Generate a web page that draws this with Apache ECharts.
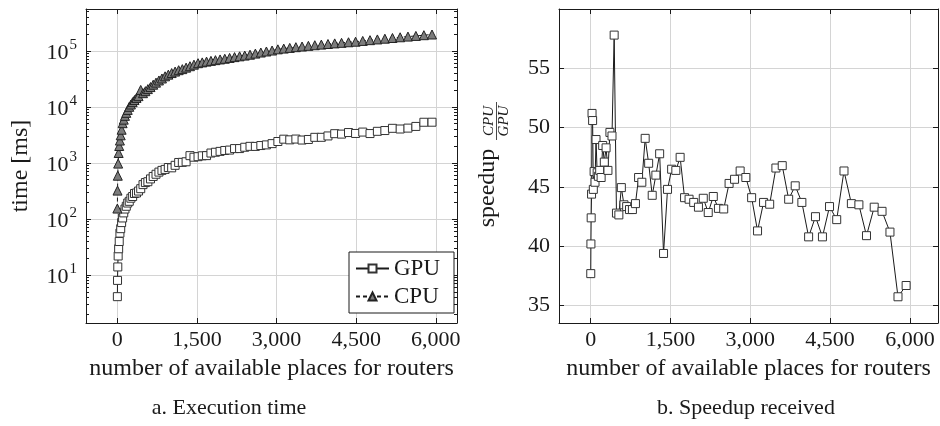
<!DOCTYPE html>
<html>
<head>
<meta charset="utf-8">
<script src="https://cdn.jsdelivr.net/npm/echarts@6/dist/echarts.min.js"></script>
<style>
  html, body { margin: 0; padding: 0; background: #fff; }
  #chart { width: 940px; height: 426px; }
</style>
</head>
<body>
<div id="chart"></div>
<script>
// number of available places (x), shared by both panels
const places = [1, 4, 9, 16, 25, 36, 49, 64, 81, 100,
  121, 144, 169, 196, 225, 256, 289, 324, 361, 400,
  441, 484, 529, 576, 625, 676, 729, 784, 841, 900,
  961, 1024, 1089, 1156, 1225, 1296, 1369, 1444, 1521, 1600,
  1681, 1764, 1849, 1936, 2025, 2116, 2209, 2304, 2401, 2500,
  2601, 2704, 2809, 2916, 3025, 3136, 3249, 3364, 3481, 3600,
  3721, 3844, 3969, 4096, 4225, 4356, 4489, 4624, 4761, 4900,
  5041, 5184, 5329, 5476, 5625, 5776, 5929];

// execution time [ms]
const gpuTime = [4.1, 8.0, 13.9, 21.8, 29.3, 39.5, 55.8, 67, 86, 104,
  128, 150, 168, 192, 206, 234, 251, 284, 290, 314,
  346, 409, 445, 461, 517, 572, 626, 684, 734, 764,
  826, 815, 904, 1016, 1022, 1046, 1345, 1261, 1290, 1336,
  1347, 1497, 1547, 1602, 1663, 1691, 1797, 1799, 1898, 1970,
  1965, 2037, 2093, 2205, 2404, 2646, 2574, 2659, 2554, 2613,
  2854, 2856, 3021, 3316, 3259, 3475, 3345, 3543, 3333, 3654,
  3772, 4132, 4018, 4168, 4466, 5301, 5313];

const cpuTime = [153, 320, 590, 970, 1500, 2000, 2500, 3100, 3900, 5100,
  5900, 6900, 7800, 8800, 10000, 11000, 12100, 13200, 14400, 15500,
  20000, 17500, 19000, 20700, 22500, 24800, 27000, 29500, 32000, 35000,
  37500, 40000, 42500, 45000, 47000, 50000, 53000, 56500, 60000, 62000,
  64000, 66000, 68000, 70000, 72000, 74500, 77000, 79500, 82000, 85000,
  89000, 93000, 97000, 101000, 106000, 109300, 112500, 115800, 119000, 122300,
  125500, 128800, 132000, 135300, 138500, 141800, 145000, 149700, 154500, 159300,
  164100, 169000, 174000, 179000, 184000, 189500, 195000];

// speedup CPU / GPU
const speedup = [37.7, 40.2, 42.4, 44.4, 51.2, 50.6, 44.8, 46.3, 45.4, 49.0,
  46.2, 45.9, 46.4, 45.8, 48.5, 47.1, 48.3, 46.4, 49.6, 49.3,
  57.8, 42.8, 42.65, 44.95, 43.5, 43.35, 43.1, 43.1, 43.6, 45.8,
  45.4, 49.1, 47.0, 44.3, 46.0, 47.8, 39.4, 44.8, 46.5, 46.4,
  47.5, 44.1, 43.97, 43.7, 43.3, 44.05, 42.85, 44.2, 43.2, 43.15,
  45.3, 45.65, 46.35, 45.8, 44.1, 41.3, 43.7, 43.55, 46.6, 46.8,
  43.97, 45.1, 43.7, 40.8, 42.5, 40.8, 43.35, 42.25, 46.35, 43.6,
  43.5, 40.9, 43.3, 42.95, 41.2, 35.75, 36.7];

const xTicks = [0, 1500, 3000, 4500, 6000];
const timeTicks = [10, 100, 1000, 10000, 100000];
const speedupTicks = [35, 40, 45, 50, 55];

// minor log ticks 2..9 x 10^d inside the visible range
const timeMinorTicks = [];
for (let d = 0; d <= 5; d++) {
  for (let m = 2; m <= 9; m++) {
    const v = m * Math.pow(10, d);
    if (v < 555000) timeMinorTicks.push(v);
  }
}

const FONT = "'Liberation Serif', 'Times New Roman', serif";
const INK = '#1a1a1a';
const GRID_LINE = '#d4d4d4';

const pair = (xs, ys) => xs.map((x, i) => [x, ys[i]]);
const withCommas = v => String(v).replace(/\B(?=(\d{3})+(?!\d))/g, ',');

const frameLine = { show: true, onZero: false, lineStyle: { color: INK, width: 1 } };
const noLine = { show: false, onZero: false };

function xAxes(gridIndex, min, max) {
  return [
    {
      type: 'value', gridIndex, position: 'bottom', min, max,
      axisLine: frameLine,
      axisTick: { show: true, inside: true, length: 5, customValues: xTicks, lineStyle: { color: INK } },
      axisLabel: { customValues: xTicks, formatter: withCommas, margin: 6, color: INK, fontFamily: FONT, fontSize: 22 },
      splitLine: { show: true, lineStyle: { color: GRID_LINE, width: 1 } }
    },
    {
      type: 'value', gridIndex, position: 'top', min, max,
      axisLine: frameLine,
      axisTick: { show: true, inside: true, length: 5, customValues: xTicks, lineStyle: { color: INK } },
      axisLabel: { show: false },
      splitLine: { show: false }
    }
  ];
}

function logAxis(position, ticks, len, labelled) {
  return {
    type: 'log', logBase: 10, gridIndex: 0, position, min: 1.39, max: 555900,
    axisLine: labelled !== null ? frameLine : noLine,
    axisTick: { show: true, inside: true, length: len, customValues: ticks, lineStyle: { color: INK } },
    axisLabel: labelled ? {
      customValues: ticks,
      margin: 9,
      formatter: v => '{b|10}{s|' + Math.round(Math.log10(v)) + '}',
      rich: {
        b: { fontFamily: FONT, fontSize: 22, color: INK, verticalAlign: 'bottom' },
        s: { fontFamily: FONT, fontSize: 15, color: INK, verticalAlign: 'bottom', padding: [0, 0, 11, 1] }
      }
    } : { show: false },
    splitLine: { show: !!labelled, lineStyle: { color: GRID_LINE, width: 1 } }
  };
}

function speedAxis(position, labelled) {
  return {
    type: 'value', gridIndex: 1, position, min: 33.54, max: 60,
    axisLine: frameLine,
    axisTick: { show: true, inside: true, length: 5, customValues: speedupTicks, lineStyle: { color: INK } },
    axisLabel: labelled ? { customValues: speedupTicks, margin: 9, color: INK, fontFamily: FONT, fontSize: 22 } : { show: false },
    splitLine: { show: labelled, lineStyle: { color: GRID_LINE, width: 1 } }
  };
}

const squareMark = { color: '#fff', borderColor: '#333', borderWidth: 1 };

const option = {
  animation: false,
  backgroundColor: '#fff',
  grid: [
    { left: 86, top: 9, width: 371, height: 314 },
    { left: 559, top: 9, width: 379, height: 314 }
  ],
  xAxis: [...xAxes(0, -590, 6400), ...xAxes(1, -596, 6528)],
  yAxis: [
    logAxis('left', timeTicks, 5, true),
    logAxis('left', timeMinorTicks, 3, null),
    logAxis('right', timeTicks, 5, false),
    logAxis('right', timeMinorTicks, 3, null),
    speedAxis('left', true),
    speedAxis('right', false)
  ],
  legend: {
    data: ['GPU', 'CPU'],
    orient: 'vertical',
    left: 349, top: 252,
    padding: [5, 14, 5, 6],
    itemGap: 5,
    itemWidth: 33, itemHeight: 10,
    selectedMode: false,
    backgroundColor: '#fff',
    borderColor: INK, borderWidth: 1,
    textStyle: { fontFamily: FONT, fontSize: 23, color: INK }
  },
  series: [
    {
      name: 'GPU', type: 'line', xAxisIndex: 0, yAxisIndex: 0,
      data: pair(places, gpuTime),
      symbol: 'rect', symbolSize: 8,
      itemStyle: squareMark,
      lineStyle: { color: INK, width: 1 }
    },
    {
      name: 'CPU', type: 'line', xAxisIndex: 0, yAxisIndex: 0,
      data: pair(places, cpuTime),
      symbol: 'triangle', symbolSize: 9,
      itemStyle: { color: '#7c7c7c', borderColor: '#222', borderWidth: 1 },
      lineStyle: { color: INK, width: 1, type: [4, 3] }
    },
    {
      name: 'speedup', type: 'line', xAxisIndex: 2, yAxisIndex: 4,
      data: pair(places, speedup),
      symbol: 'rect', symbolSize: 8,
      itemStyle: squareMark,
      lineStyle: { color: INK, width: 1 }
    }
  ],
  graphic: [
    { type: 'text', x: 21, y: 166, rotation: Math.PI / 2,
      style: { text: 'time [ms]', font: '24px ' + FONT, fill: INK, textAlign: 'center', textVerticalAlign: 'middle' } },
    { type: 'text', x: 271.5, y: 369,
      style: { text: 'number of available places for routers', font: '24px ' + FONT, fill: INK, textAlign: 'center', textVerticalAlign: 'middle' } },
    { type: 'text', x: 748.5, y: 369,
      style: { text: 'number of available places for routers', font: '24px ' + FONT, fill: INK, textAlign: 'center', textVerticalAlign: 'middle' } },
    { type: 'text', x: 229, y: 408,
      style: { text: 'a. Execution time', font: '22px ' + FONT, fill: INK, textAlign: 'center', textVerticalAlign: 'middle' } },
    { type: 'text', x: 746, y: 408,
      style: { text: 'b. Speedup received', font: '22px ' + FONT, fill: INK, textAlign: 'center', textVerticalAlign: 'middle' } },
    // y title of the right panel: "speedup CPU/GPU" with a stacked fraction
    { type: 'text', x: 488, y: 188, rotation: Math.PI / 2,
      style: { text: 'speedup', font: '24px ' + FONT, fill: INK, textAlign: 'center', textVerticalAlign: 'middle' } },
    { type: 'text', x: 489.5, y: 121, rotation: Math.PI / 2,
      style: { text: 'CPU', font: 'italic 15px ' + FONT, fill: INK, textAlign: 'center', textVerticalAlign: 'middle' } },
    { type: 'text', x: 504, y: 121, rotation: Math.PI / 2,
      style: { text: 'GPU', font: 'italic 15px ' + FONT, fill: INK, textAlign: 'center', textVerticalAlign: 'middle' } },
    { type: 'line', shape: { x1: 496.5, y1: 102, x2: 496.5, y2: 140 },
      style: { stroke: INK, lineWidth: 0.8 } }
  ]
};

const chart = echarts.init(document.getElementById('chart'), null, { renderer: 'canvas' });
chart.setOption(option);
</script>
</body>
</html>
